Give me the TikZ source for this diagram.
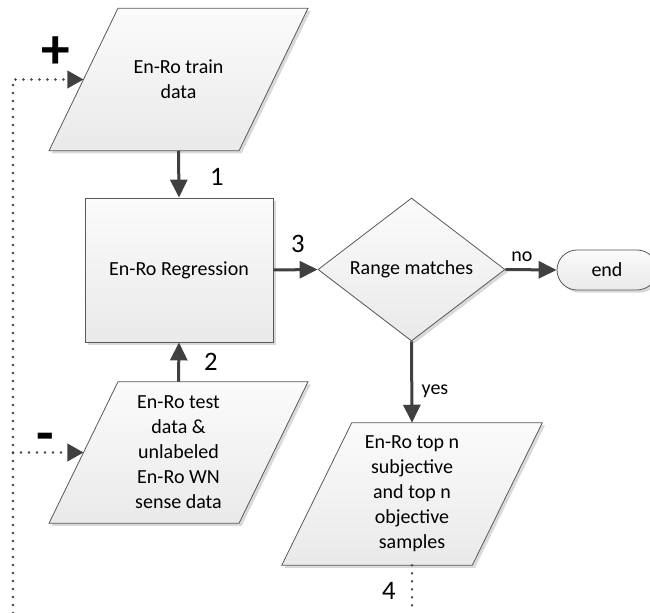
\documentclass[tikz,border=0pt]{standalone}
\usepackage{fontspec}
\setmainfont{Carlito}
\usetikzlibrary{arrows.meta,shapes.geometric,shapes.misc,shadows,backgrounds,calc}
\definecolor{linegray}{HTML}{595959}
\definecolor{arrowgray}{HTML}{404040}
\begin{document}
\begin{tikzpicture}[x=0.75pt,y=-0.75pt,
  fillshade/.style={draw=linegray, line width=0.6pt, top color=gray!3, bottom color=gray!17,
    drop shadow={shadow xshift=2pt,shadow yshift=-2pt,fill=gray!30,opacity=1}},
  txt/.style={font=\fontsize{15}{18.75}\selectfont, align=center, text=black},
  box/.style={fillshade, txt},
  ptext/.style={txt, inner sep=0pt, minimum width=142.125pt, minimum height=106.5pt},
  pshape/.style={fillshade},
  arr/.style={draw=arrowgray, line width=2.25pt, -{Triangle[length=13.5pt,width=12.75pt]}},
  dotln/.style={draw=arrowgray, line width=1.9pt, line cap=round, dash pattern=on 0pt off 6pt},
  dotarr/.style={dotln, -{Triangle[length=12pt,width=13pt]}},
  numlbl/.style={font=\fontsize{20}{20}\selectfont, inner sep=0pt, text=black},
  smalllbl/.style={font=\fontsize{15}{15}\selectfont, inner sep=0pt, text=black},
  signlbl/.style={font=\fontsize{43}{43}\selectfont\bfseries, inner sep=0pt, text=black}]
\useasboundingbox (0,0) rectangle (650,613);
\clip (0,0) rectangle (650,613);

% parallelogram text nodes
\node[ptext] (train) at (178.5,79.5) {En-Ro train\\data};
\node[ptext, minimum height=105.75pt] (test) at (178.5,452.5) {En-Ro test\\data \&\\unlabeled\\En-Ro WN\\sense data};
\node[ptext, minimum width=142.5pt] (topn) at (412,494) {En-Ro top n\\subjective\\and top n\\objective\\samples};

\begin{scope}[on background layer]
\foreach \n/\o in {train/34.5,test/34.5,topn/35}{
  \path[pshape] ($(\n.north west)+(\o,0)$) -- ($(\n.north east)+(\o,0)$)
    -- ($(\n.south east)+(-\o,0)$) -- ($(\n.south west)+(-\o,0)$) -- cycle;
}
\end{scope}

% other shapes
\node[box, inner sep=0pt, minimum width=141pt, minimum height=108pt] (reg) at (179,270) {En-Ro Regression};
\node[box, diamond, aspect=1.3, inner sep=0pt, minimum width=140.25pt, minimum height=107.25pt] (dec) at (411.5,269.5) {Range matches};
\node[box, rounded rectangle, inner sep=0pt, minimum width=75pt, minimum height=30pt] (end) at (607,270) {end};

% connectors
\draw[arr] (train.south) -- (reg.north);
\draw[arr] (test.north) -- (reg.south);
\draw[arr] (reg.east) -- (dec.west);
\draw[arr] (dec.east) -- (end.west);
\draw[arr] (dec.south) -- (topn.north);

\coordinate (lb) at (13,613);
\coordinate (bb) at (412,613);
\draw[dotarr] (lb) |- (train.west);
\draw[dotarr] (lb |- test.west) -- (test.west);
\draw[dotln] (topn.south) -- (bb);

% labels
\node[numlbl] (n1) at (217,177) {1};
\node[numlbl] (n2) at (211,362) {2};
\node[numlbl] (n3) at (298,244) {3};
\node[numlbl] (n4) at (389,591) {4};
\node[smalllbl] (lno) at (522,257) {no};
\node[smalllbl] (lyes) at (435,391.5) {yes};
\node[signlbl] (plus) at (56,53) {+};
\node[signlbl] (minus) at (45,443) {-};
\end{tikzpicture}
\end{document}
